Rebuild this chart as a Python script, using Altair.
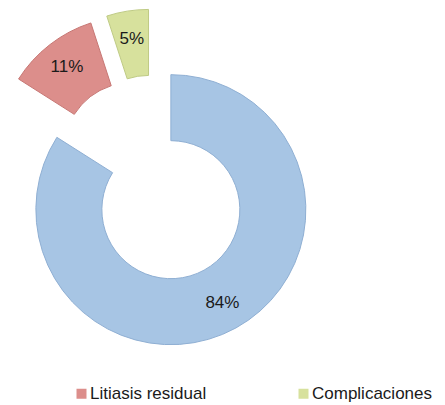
import altair as alt
import pandas as pd

# ---- data ----
categories = ["Sin litiasis", "Litiasis residual", "Complicaciones"]
values = [84, 11, 5]
labels = ["84%", "11%", "5%"]
order = [0, 1, 2]

# ---- styling / layout ----
fill_colors = ["#A7C5E4", "#DC8E8B", "#D7E19D"]
stroke_colors = ["#8FAFD3", "#C77774", "#BFCB85"]
CX, CY = 146, 171        # pie centre (view px)
EXPLODE = 35             # slice offset
R_OUT, R_IN, R_LAB = 135, 69, 107
FONT = "Liberation Sans"

df = pd.DataFrame({"categoria": categories, "valor": values,
                   "etiqueta": labels, "orden": order})

base = alt.Chart(df).transform_window(
    cum="sum(valor)", sort=[alt.SortField("orden")], frame=[None, 0]
).transform_joinaggregate(
    total="sum(valor)"
).transform_calculate(
    t0="2*PI*(datum.cum - datum.valor)/datum.total",
    t1="2*PI*datum.cum/datum.total",
).transform_calculate(
    mid="(datum.t0 + datum.t1)/2"
).transform_calculate(
    px=f"{CX} + {EXPLODE}*sin(datum.mid)",
    py=f"{CY} - {EXPLODE}*cos(datum.mid)",
).transform_calculate(
    lx=f"datum.px + {R_LAB}*sin(datum.mid)",
    ly=f"datum.py - {R_LAB}*cos(datum.mid)",
)

arcs = base.mark_arc(radius=R_OUT, radius2=R_IN, strokeWidth=1).encode(
    theta=alt.Theta("t0:Q", scale=None),
    theta2="t1:Q",
    x=alt.X("px:Q", scale=None, axis=None),
    y=alt.Y("py:Q", scale=None, axis=None),
    color=alt.Color(
        "categoria:N",
        scale=alt.Scale(domain=categories, range=fill_colors),
        legend=alt.Legend(
            values=categories[1:], title=None, orient="none",
            legendX=65, legendY=377, direction="horizontal",
            symbolType="square", symbolSize=100, symbolStrokeWidth=0,
            labelFont=FONT, labelFontSize=17, labelColor="#1a1a1a",
            labelOffset=0, columnPadding=88,
        ),
    ),
    stroke=alt.Stroke("categoria:N",
                      scale=alt.Scale(domain=categories, range=stroke_colors),
                      legend=None),
)

texts = base.mark_text(font=FONT, fontSize=17, color="#1a1a1a").encode(
    x=alt.X("lx:Q", scale=None, axis=None),
    y=alt.Y("ly:Q", scale=None, axis=None),
    text="etiqueta:N",
)

chart = alt.layer(arcs, texts).properties(
    width=429, height=397,
    autosize=alt.AutoSizeParams(type="none"),
    padding=0,
).configure_view(strokeWidth=0)

chart.save("out.html", embed_options={"renderer": "svg", "actions": False})
